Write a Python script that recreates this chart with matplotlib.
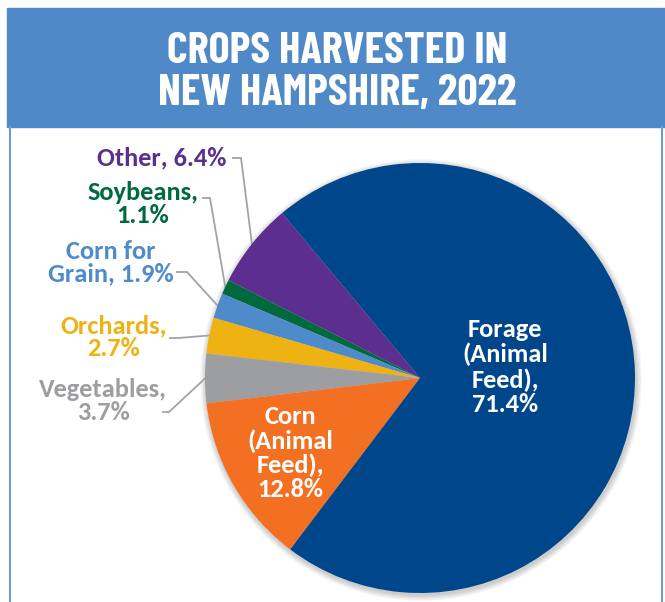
import numpy as np
import matplotlib
matplotlib.use('Agg')
import matplotlib.pyplot as plt
from matplotlib.patches import Rectangle, Circle

# crop shares, in drawing order (counter-clockwise from the Forage / Other edge)
crops = ['Other', 'Soybeans', 'Corn for Grain', 'Orchards', 'Vegetables',
         'Corn (Animal Feed)', 'Forage (Animal Feed)']
shares = [6.4, 1.1, 1.9, 2.7, 3.7, 12.8, 71.4]
colors = ['#5B2E8F', '#00693E', '#4E8BCA', '#EEB212', '#9D9EA2', '#F37022', '#00468A']
label_text = ['Other, 6.4%', 'Soybeans,\n1.1%', 'Corn for\nGrain, 1.9%', 'Orchards,\n2.7%',
              'Vegetables,\n3.7%', 'Corn\n(Animal\nFeed),\n12.8%', 'Forage\n(Animal\nFeed),\n71.4%']
title_lines = ['CROPS HARVESTED IN', 'NEW HAMPSHIRE, 2022']

W, H = 665, 602
title_font = ['Barlow Condensed', 'DejaVu Sans']
label_font = ['Carlito', 'DejaVu Sans']

fig = plt.figure(figsize=(W / 100, H / 100), dpi=100)
ax = fig.add_axes([0, 0, 1, 1])

# header band and side rules
ax.add_patch(Rectangle((7, H - 127), W - 7, 119, color='#4F89C7', zorder=1))
ax.plot([10, 10], [0, H - 127], color='#6E9DD3', lw=1.5, zorder=1)
ax.plot([662, 662], [0, H - 127], color='#6E9DD3', lw=1.5, zorder=1)
for k, line in enumerate(title_lines):
    ax.text(337, H - 63 - k * 42, line, ha='center', va='baseline', color='white',
            fontsize=32, fontweight='bold', family=title_font, zorder=3)

cx, cy, r = 420, H - 378, 215
start = 129.9

# soft shadow behind the pie
for i in range(10):
    ax.add_patch(Circle((cx + 1, cy - 2), r + 6 - i * 0.6, color='black',
                        alpha=0.018, lw=0, zorder=2))

wedges, _ = ax.pie(shares, colors=colors, startangle=start, counterclock=True,
                   center=(cx, cy), radius=r, frame=True,
                   wedgeprops=dict(linewidth=0, zorder=3))
ax.set_xlim(0, W)
ax.set_ylim(0, H)
ax.set_aspect('equal')
ax.axis('off')

# outside labels: text centre, alignment, leader start, leader elbow
outside = {
    0: ((226, 158), 'right', (233, 158), (241, 158)),
    1: ((143, 204), 'center', (203, 198), (210, 198)),
    2: ((111, 263), 'center', (177, 272), (187, 272)),
    3: ((114, 337), 'center', (170, 338), (178, 338)),
    4: ((103, 401), 'center', (163, 412), (169, 412)),
}
for i, ((tx, ty), ha, p0, p1) in outside.items():
    w = wedges[i]
    mid = np.deg2rad((w.theta1 + w.theta2) / 2)
    ex, ey = cx + r * np.cos(mid), cy + r * np.sin(mid)
    ax.plot([p0[0], p1[0], ex], [H - p0[1], H - p1[1], ey], color='#A3A3A3',
            lw=1.3, zorder=2.5, solid_joinstyle='miter')
    ax.text(tx, H - ty, label_text[i], ha=ha, va='center', multialignment='center',
            color=colors[i], fontsize=19, fontweight='bold', family=label_font,
            linespacing=0.98, zorder=4)

# labels inside the two big slices
ax.text(290, H - 453, label_text[5], ha='center', va='center', color='white',
        fontsize=19, fontweight='bold', family=label_font, linespacing=1.05, zorder=4)
ax.text(505, H - 367, label_text[6], ha='center', va='center', color='white',
        fontsize=19, fontweight='bold', family=label_font, linespacing=1.1, zorder=4)

fig.savefig('out.png', dpi=100, facecolor='white')
